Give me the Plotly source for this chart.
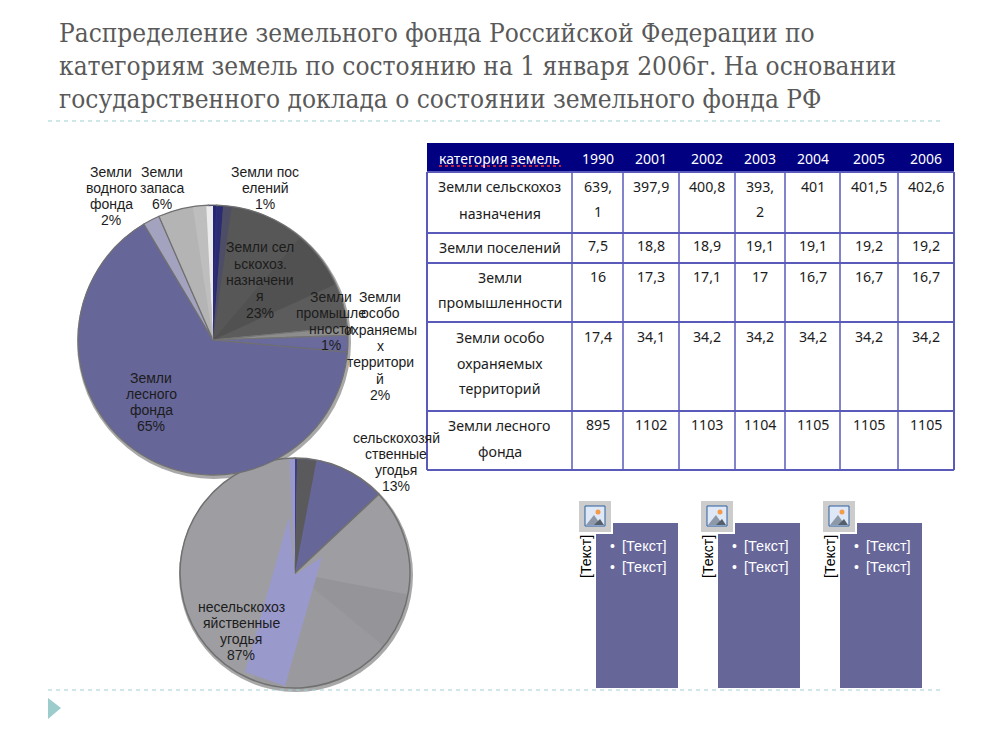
import plotly.graph_objects as go

W, H = 992, 740

title_lines = [
    "Распределение земельного фонда Российской Федерации по",
    "категориям земель по состоянию на 1 января 2006г. На основании",
    "государственного доклада о состоянии земельного фонда РФ",
]

# upper pie
upper_labels = ["Земли поселений", "Земли сельскохоз. назначения", "Земли промышленности",
                "Земли особо охраняемых территорий", "Земли лесного фонда",
                "Земли водного фонда", "Земли запаса"]
upper_values = [1, 23, 1, 2, 65, 2, 6]
upper_colors = ["#2f2f78", "#575757", "#8a8a8a", "#666699", "#666699", "#a3a3c0", "#b4b4b4"]

# tonal bands on upper pie (share of circle, clockwise from 12 o'clock)
upper_tone_values = [1.2, 1, 9, 7, 8, 71.4, 1.6, 0.8]
upper_tone_colors = ["rgba(35,35,120,0.85)", "rgba(70,70,110,0.6)", "rgba(0,0,0,0)",
                     "rgba(0,0,0,0.06)", "rgba(255,255,255,0.03)", "rgba(0,0,0,0)",
                     "rgba(190,190,190,1)", "rgba(235,235,235,1)"]

# lower pie
lower_labels = ["сельскохозяйственные угодья", "несельскохозяйственные угодья"]
lower_values = [13, 87]
lower_colors = ["#666699", "#9e9ea2"]
lower_tone_values = [0.3, 2.7, 10, 15, 8, 20, 43.2, 0.8]
lower_tone_colors = ["rgba(60,60,130,1)", "rgba(90,90,90,0.95)", "rgba(0,0,0,0)",
                     "rgba(0,0,0,0)", "rgba(0,0,0,0.05)", "rgba(0,0,0,0.025)",
                     "rgba(0,0,0,0)", "rgba(153,153,204,1)"]

# label texts
upper_texts = [
    "Земли пос<br>елений<br>1%",
    "Земли сел<br>ьскохоз.<br>назначени<br>я<br>23%",
    "Земли<br>промышле<br>нности<br>1%",
    "Земли<br>особо<br>охраняемы<br>х<br>территори<br>й<br>2%",
    "Земли<br>лесного<br>фонда<br>65%",
    "Земли<br>водного<br>фонда<br>2%",
    "Земли<br>запаса<br>6%",
]
lower_texts = ["сельскохозяй<br>ственные<br>угодья<br>13%", "несельскохоз<br>яйственные<br>угодья<br>87%"]
upper_text_pos = [(265, 188), (260, 280), (331, 321), (380, 346), (151, 402), (111, 196), (162, 188)]
lower_text_pos = [(396, 462), (241, 631)]

# table
table_header = ["категория земель", "1990", "2001", "2002", "2003", "2004", "2005", "2006"]
table_cat = [["Земли сельскохоз", "назначения"], ["Земли поселений"], ["Земли", "промышленности"],
             ["Земли особо", "охраняемых", "территорий"], ["Земли лесного", "фонда"]]
table_vals = [
    [["639,", "1"], ["397,9"], ["400,8"], ["393,", "2"], ["401"], ["401,5"], ["402,6"]],
    [["7,5"], ["18,8"], ["18,9"], ["19,1"], ["19,1"], ["19,2"], ["19,2"]],
    [["16"], ["17,3"], ["17,1"], ["17"], ["16,7"], ["16,7"], ["16,7"]],
    [["17,4"], ["34,1"], ["34,2"], ["34,2"], ["34,2"], ["34,2"], ["34,2"]],
    [["895"], ["1102"], ["1103"], ["1104"], ["1105"], ["1105"], ["1105"]],
]
placeholder_bullet = "•"
placeholder_text = "[Текст]"

col_x = [427, 572, 623, 679, 735, 785, 840, 898, 954]
row_y = [143, 172, 233, 263, 322, 411, 470]
first_line_y = [187, 247, 277, 337, 425]
LINE_COL = "#5a5abb"
TXT = "#1c1c1c"


def px(x):
    return x / W


def py(y):
    return 1 - y / H


shapes, annos = [], []


def rect(x0, y0, x1, y1, fill, line=None, lw=0, layer="above"):
    shapes.append(dict(type="rect", xref="paper", yref="paper", x0=px(x0), x1=px(x1), y0=py(y0), y1=py(y1),
                       fillcolor=fill, line=dict(color=line or fill, width=lw), layer=layer))


def seg(x0, y0, x1, y1, color, width=1, dash="solid"):
    shapes.append(dict(type="line", xref="paper", yref="paper", x0=px(x0), x1=px(x1), y0=py(y0), y1=py(y1),
                       line=dict(color=color, width=width, dash=dash)))


def circle(cx, cy, r, fill, layer="below"):
    shapes.append(dict(type="circle", xref="paper", yref="paper", x0=px(cx - r), x1=px(cx + r),
                       y0=py(cy - r), y1=py(cy + r), fillcolor=fill, line=dict(width=0), layer=layer))


def poly(points, fill, layer="above"):
    d = "M " + " L ".join(f"{px(x):.5f},{py(y):.5f}" for x, y in points) + " Z"
    shapes.append(dict(type="path", xref="paper", yref="paper", path=d, fillcolor=fill,
                       line=dict(width=0), layer=layer))


def text(x, y, s, size=14, color=TXT, family="Liberation Sans", xanchor="center", angle=0):
    annos.append(dict(x=px(x), y=py(y), xref="paper", yref="paper", text=s, showarrow=False,
                      xanchor=xanchor, yanchor="middle", align="center", textangle=angle,
                      font=dict(size=size, color=color, family=family), borderpad=0))


def stacked(x, y, s, spacing=16.3):
    parts = s.split("<br>")
    y0 = y - spacing * (len(parts) - 1) / 2
    for i, part in enumerate(parts):
        text(x, y0 + i * spacing, part)


def pie_domain(cx, cy, r):
    return dict(x=[px(cx - r), px(cx + r)], y=[py(cy + r), py(cy - r)])


UC, UR = (213, 340), 135
LC, LR = (295, 573), 115

fig = go.Figure()

# lower pie first: the upper one sits on top of it
fig.add_trace(go.Pie(labels=lower_labels, values=lower_values, sort=False, direction="clockwise", rotation=0,
                     marker=dict(colors=lower_colors, line=dict(color="#707070", width=1.5)),
                     textinfo="none", hoverinfo="label+percent", showlegend=False,
                     domain=pie_domain(*LC, LR)))
fig.add_trace(go.Pie(values=lower_tone_values, sort=False, direction="clockwise", rotation=0,
                     marker=dict(colors=lower_tone_colors, line=dict(width=0)),
                     textinfo="none", hoverinfo="skip", showlegend=False,
                     domain=pie_domain(*LC, LR - 1)))
fig.add_trace(go.Pie(labels=upper_labels, values=upper_values, sort=False, direction="clockwise", rotation=-2,
                     marker=dict(colors=upper_colors, line=dict(color="#707070", width=1.2)),
                     textinfo="none", hoverinfo="label+percent", showlegend=False,
                     domain=pie_domain(*UC, UR)))
fig.add_trace(go.Pie(values=upper_tone_values, sort=False, direction="clockwise", rotation=0,
                     marker=dict(colors=upper_tone_colors, line=dict(width=0)),
                     textinfo="none", hoverinfo="skip", showlegend=False,
                     domain=pie_domain(*UC, UR - 1)))

# soft rim shadows
circle(UC[0] + 1, UC[1] + 2, UR + 2, "#a8a8a8")
circle(LC[0] + 1, LC[1] + 2, LR + 2, "#a8a8a8")

# lavender band of the lower pie
poly([(295, 575), (322, 557), (285, 686), (245, 672), (289, 517)], "#9999cc")

for (x, y), s in zip(upper_text_pos, upper_texts):
    stacked(x, y, s)
for (x, y), s in zip(lower_text_pos, lower_texts):
    stacked(x, y, s)

# title
for y, line in zip([33, 66, 99], title_lines):
    text(58, y, line, size=26, color="#595959", family="DejaVu Serif Condensed", xanchor="left")

# dividers and bullet triangle
seg(48, 121, 944, 121, "#9dcfd2", 1, "4px,4px")
seg(48, 690, 944, 690, "#9dcfd2", 1, "4px,4px")
poly([(48, 698), (48, 719), (61, 708)], "#9ccccc")

# table
rect(col_x[0], row_y[0], col_x[-1], row_y[1], "#000080")
for i in range(1, len(row_y)):
    seg(col_x[0], row_y[i], col_x[-1], row_y[i], LINE_COL, 2)
for i, x in enumerate(col_x):
    seg(x, row_y[1], x, row_y[-1], LINE_COL, 2 if i in (0, 8) else 1.5)
TF = "Noto Sans"
for i, h in enumerate(table_header):
    text((col_x[i] + col_x[i + 1]) / 2, 158, h, size=14, color="white", family=TF)
seg(439, 166, 561, 166, "#ff3030", 1.5, "dot")
for r, (cat, vals) in enumerate(zip(table_cat, table_vals)):
    top = first_line_y[r]
    for k, line in enumerate(cat):
        text((col_x[0] + col_x[1]) / 2, top + k * 26, line, size=14.2, family=TF)
    for c, cell in enumerate(vals):
        for k, line in enumerate(cell):
            text((col_x[c + 1] + col_x[c + 2]) / 2, top - 1 + k * 26, line, size=14.2, family=TF)

# placeholders
for dx in (0, 122, 244):
    rect(596 + dx, 523, 678 + dx, 688, "#666699")
    rect(577 + dx, 499, 613 + dx, 534, "#ffffff")
    rect(579 + dx, 501, 611 + dx, 532, "#cccccc")
    rect(585 + dx, 506, 605 + dx, 526, "#dfe8f6", "#2f5f9f", 1)
    poly([(586 + dx, 525), (594 + dx, 515), (601 + dx, 525)], "#8d99a8")
    poly([(594 + dx, 525), (600 + dx, 519), (604 + dx, 525)], "#555f6c")
    circle(598 + dx, 512, 2.5, "#f59a4a", layer="above")
    text(586 + dx, 557, placeholder_text, size=14, color="#000000", angle=-90)
    for y in (546, 567):
        text(612 + dx, y, placeholder_bullet, size=14, color="white")
        text(621 + dx, y, placeholder_text, size=14.5, color="white", xanchor="left")

fig.update_layout(width=W, height=H, autosize=False, margin=dict(l=0, r=0, t=0, b=0, pad=0),
                  paper_bgcolor="white", plot_bgcolor="white", shapes=shapes, annotations=annos,
                  showlegend=False)
fig.write_html("out.html", config=dict(displayModeBar=False),
               post_script="document.body.style.margin='0';document.documentElement.style.overflow='hidden';")
